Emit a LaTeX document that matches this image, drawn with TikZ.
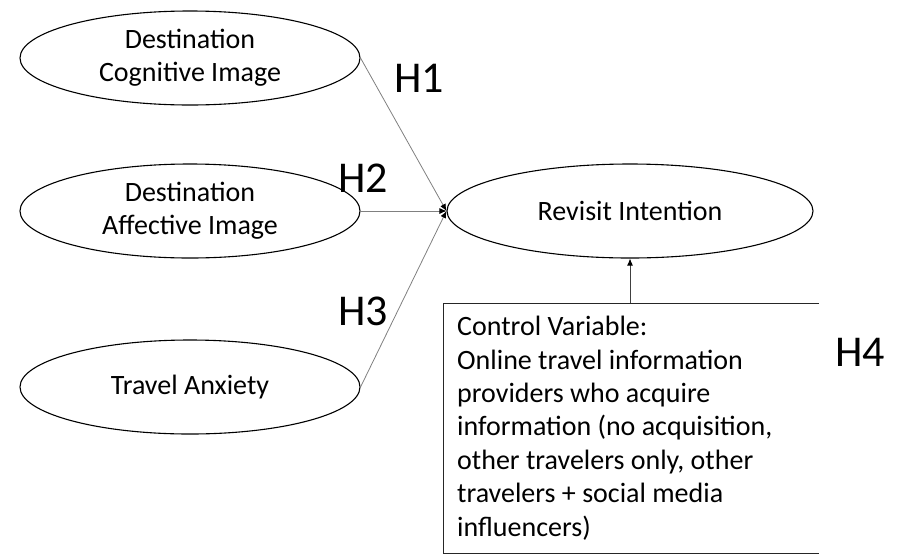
\documentclass[tikz,border=0pt]{standalone}
\usepackage{fontspec}
\setmainfont{Carlito}
\usetikzlibrary{shapes.geometric,arrows.meta}
\begin{document}
\begin{tikzpicture}[x=1pt,y=-1pt,
  construct/.style={ellipse,draw=black,line width=1.1pt,inner sep=0pt,
    minimum width=340pt,minimum height=94pt,align=center,
    font=\fontsize{28}{33}\selectfont},
  hyp/.style={draw=black!50,line width=0.8pt,-{Latex[length=7pt,width=6pt,black]}},
  hlabel/.style={font=\fontsize{44}{44}\selectfont,inner sep=0pt},
  frameline/.style={draw=black!85,line width=0.9pt}]
\useasboundingbox (0,0) rectangle (909,555);
\node[construct] (dci) at (190,58) {Destination\\Cognitive Image};
\node[construct] (dai) at (190,211) {Destination\\Affective Image};
\node[construct] (ta) at (190,387) {Travel Anxiety};
\node[construct,minimum width=366pt] (ri) at (630,211) {Revisit Intention};
\draw[hyp] (dci.east) -- (ri.west);
\draw[hyp] (dai.east) -- (ri.west);
\draw[hyp] (ta.east) -- (ri.west);
\node[hlabel] (h1) at (419,78) {H1};
\node[hlabel] (h2) at (363,178) {H2};
\node[hlabel] (h3) at (363,311) {H3};
\node[hlabel] (h4) at (860,352) {H4};
\coordinate (bnw) at (443,303);
\coordinate (bne) at (819,303);
\coordinate (bsw) at (443,553);
\coordinate (bse) at (819,553);
\coordinate (btop) at (630,303);
\draw[frameline] (bne) -- (bnw) -- (bsw) -- (bse);
\node[anchor=north west,inner sep=0pt,align=left,
  font=\fontsize{28}{33.4}\selectfont] (ctrl) at (457,316)
  {Control Variable:\\Online travel information\\providers who acquire\\information (no acquisition,\\other travelers only, other\\travelers + social media\\influencers)};
\draw[draw=black!75,line width=0.9pt,-{Latex[length=7pt,width=6pt,black]}] (btop) -- (ri.south);
\end{tikzpicture}
\end{document}
